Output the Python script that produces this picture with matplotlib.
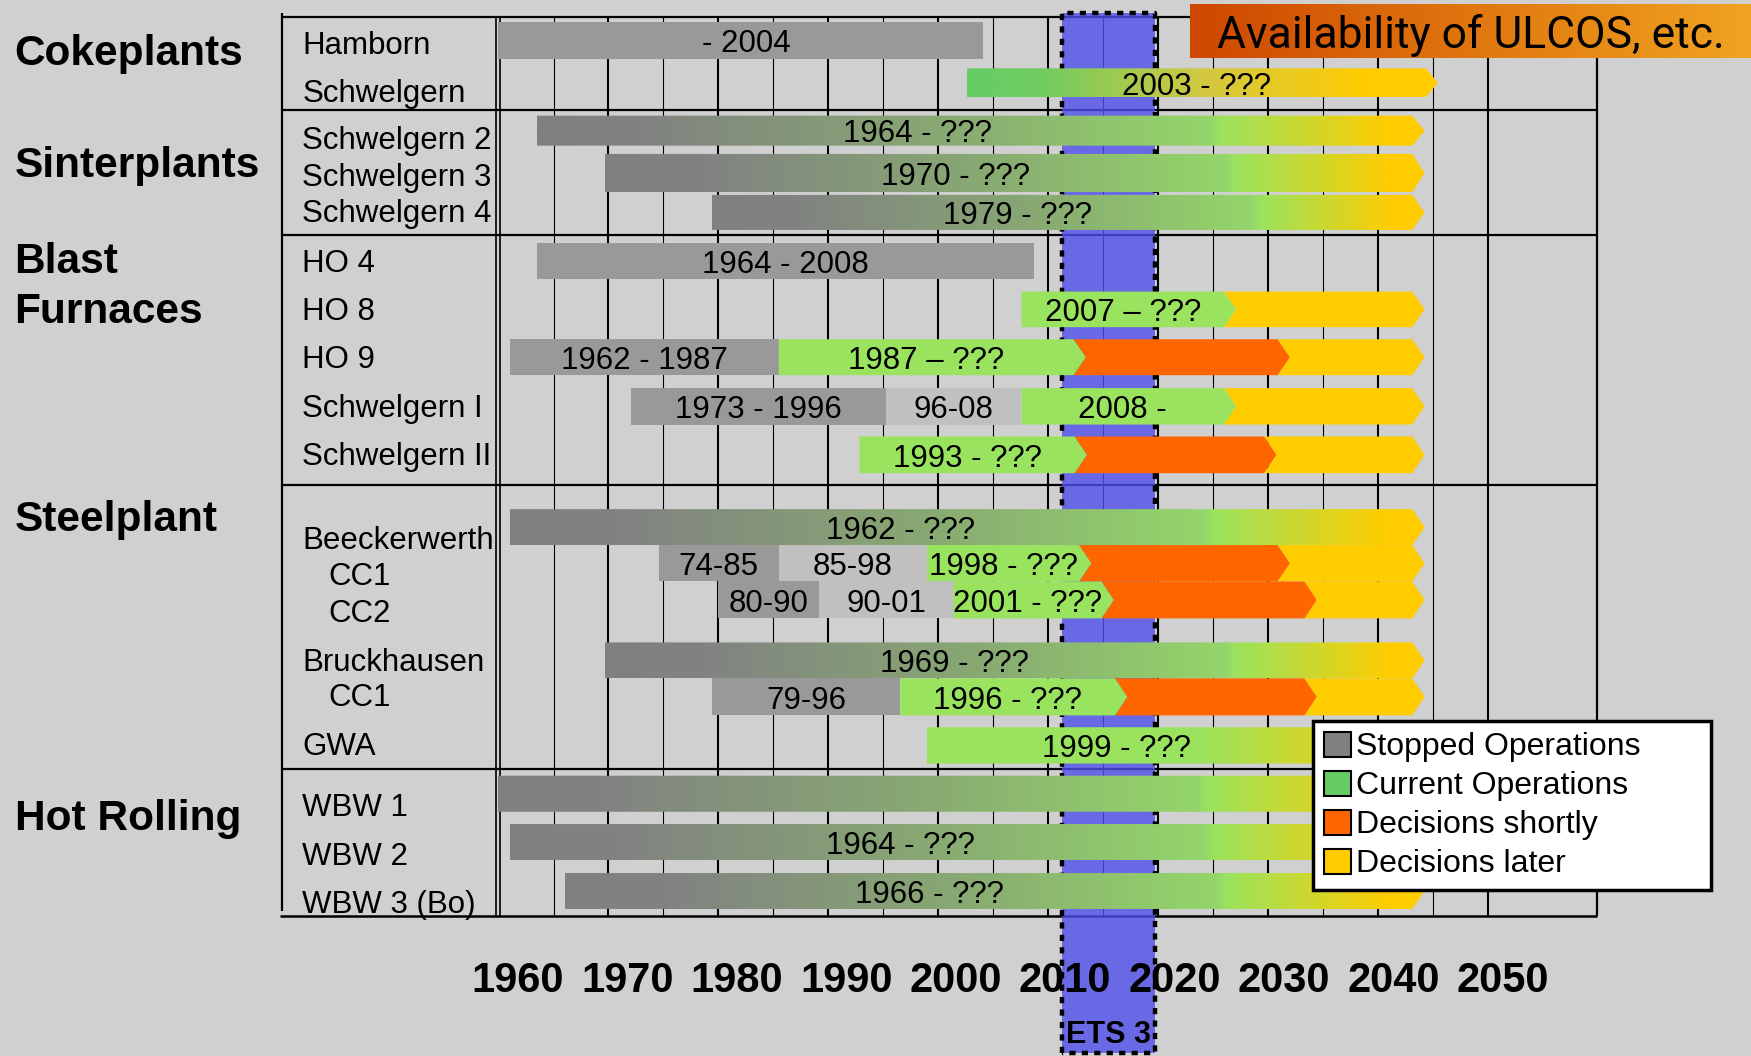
import numpy as np
import matplotlib
matplotlib.use('Agg')
import matplotlib.pyplot as plt
from matplotlib.patches import Polygon, Rectangle, Patch
from matplotlib.colors import LinearSegmentedColormap

plt.rcParams['font.family'] = ['Liberation Sans', 'DejaVu Sans']

# ---- data -----------------------------------------------------------------
group_labels = ['Cokeplants', 'Sinterplants', 'Blast', 'Furnaces', 'Steelplant', 'Hot Rolling']

row_labels = ['Hamborn', 'Schwelgern', 'Schwelgern 2', 'Schwelgern 3', 'Schwelgern 4',
              'HO 4', 'HO 8', 'HO 9', 'Schwelgern I', 'Schwelgern II',
              'Beeckerwerth', 'CC1', 'CC2', 'Bruckhausen', 'CC1', 'GWA',
              'WBW 1', 'WBW 2', 'WBW 3 (Bo)']

# segment boundaries (years) for every row
seg_edges = [
    [1960, 2003.9],
    [2002.5, 2043.4],
    [1964.1, 2042.2],
    [1970.2, 2042.2],
    [1979.75, 2042.2],
    [1964.1, 2008.5],
    [2007.35, 2025.4, 2042.2],
    [1961.7, 1985.7, 2012.0, 2030.2, 2042.2],
    [1972.5, 1995.3, 2007.35, 2025.4, 2042.2],
    [1992.9, 2012.1, 2029.0, 2042.2],
    [1961.7, 2042.2],
    [1975.0, 1985.7, 1998.95, 2012.5, 2030.2, 2042.2],
    [1980.3, 1989.3, 2001.3, 2014.5, 2032.6, 2042.2],
    [1970.2, 2042.2],
    [1979.75, 1996.55, 2015.7, 2032.6, 2042.2],
    [1998.9, 2042.2],
    [1960, 2042.2],
    [1961.7, 2042.2],
    [1966.6, 2042.2],
]
seg_kinds = [
    ['stopped'],
    ['coke'],
    ['aging'], ['aging'], ['aging'],
    ['stopped'],
    ['current', 'later'],
    ['stopped', 'current', 'shortly', 'later'],
    ['stopped', 'former', 'current', 'later'],
    ['current', 'shortly', 'later'],
    ['aging'],
    ['stopped', 'former', 'current', 'shortly', 'later'],
    ['stopped', 'former', 'current', 'shortly', 'later'],
    ['aging'],
    ['stopped', 'current', 'shortly', 'later'],
    ['new'],
    ['aging'], ['aging'], ['aging'],
]
seg_texts = [
    ['- 2004'],
    ['2003 - ???'],
    ['1964 - ???'], ['1970 - ???'], ['1979 - ???'],
    ['1964 - 2008'],
    ['2007 \u2013 ???', ''],
    ['1962 - 1987', '1987 \u2013 ???', '', ''],
    ['1973 - 1996', '96-08', '2008 -', ''],
    ['1993 - ???', '', ''],
    ['1962 - ???'],
    ['74-85', '85-98', '1998 - ???', '', ''],
    ['80-90', '90-01', '2001 - ???', '', ''],
    ['1969 - ???'],
    ['79-96', '1996 - ???', '', ''],
    ['1999 - ???'],
    [''], ['1964 - ???'], ['1966 - ???'],
]
# label position for the long gradient bars (None = centre of segment)
text_at = [1982.8, 2023.0, 1998.1, 2001.5, 2007.0, None, None, None, None, None,
           1996.6, None, None, 2001.4, None, 2015.8, None, 1996.6, 1999.1]
open_end = [False, True, True, True, True, False] + [True] * 13

ets_years = (2011.0, 2019.3)
tick_years = [1960, 1970, 1980, 1990, 2000, 2010, 2020, 2030, 2040, 2050]

legend_labels = ['Stopped Operations', 'Current Operations', 'Decisions shortly', 'Decisions later']
legend_colors = ['#808080', '#66CC66', '#FF6600', '#FFCC00']

# ---- layout (reference pixel units) ---------------------------------------
W, H = 1568.0, 946.0
BG = '#D0D0D0'
group_base = [58.2, 158.2, 244.8, 289.5, 476.1, 743.3]
row_base = [48.4, 91.0, 133.4, 166.3, 199.1, 243.3, 286.6, 329.9, 373.7, 417.0,
            491.6, 524.5, 557.3, 601.5, 632.8, 676.1, 731.3, 774.6, 817.9]
indented = {11, 12, 14}
bar_top = [20.0, 61.2, 103.6, 137.9, 174.6, 217.9, 261.2, 303.9, 347.7, 391.0,
           456.1, 488.3, 520.9, 575.5, 607.7, 651.5, 694.9, 738.2, 782.1]
bar_bot = [52.8, 87.2, 130.5, 172.2, 206.0, 250.1, 293.1, 336.1, 380.3, 423.9,
           488.3, 520.9, 554.0, 607.7, 640.9, 684.0, 727.2, 770.4, 814.3]
section_y = [98.5, 210.4, 434.3, 689.2]
TIP = 1.1  # arrow tip depth in years

solid = {'stopped': '#999999', 'former': '#C0C0C0', 'current': '#9AE35E',
         'shortly': '#FF6600', 'later': '#FFCC00'}
gradients = {
    'aging': [(0.0, '#808080'), (0.12, '#818381'), (0.45, '#88A873'),
              (0.76, '#94D66A'), (0.77, '#9AE35E'), (0.96, '#FFCC00'), (1.0, '#FFCC00')],
    'coke': [(0.0, '#66CC66'), (0.15, '#70CC60'), (0.5, '#D2C842'),
             (0.85, '#FFCC00'), (1.0, '#FFCC00')],
    'new': [(0.0, '#9AE35E'), (0.55, '#9AE35E'), (0.95, '#FFCC00'), (1.0, '#FFCC00')],
}

fig = plt.figure(figsize=(17.51, 10.56), dpi=100, facecolor=BG)

page = fig.add_axes([0, 0, 1, 1])
page.set_xlim(0, W)
page.set_ylim(H, 0)
page.axis('off')

# table frame
lk = dict(color='black', solid_capstyle='butt')
page.plot([252.6, 1066], [15, 15], lw=1.6, **lk)
page.plot([252.6, 252.6], [12, 816.4], lw=1.6, **lk)
page.plot([444.5, 444.5], [15, 820.9], lw=1.2, **lk)
page.plot([448, 448], [15, 820.9], lw=1.2, **lk)
for y in section_y:
    page.plot([252.6, 1430.3], [y, y], lw=1.6, **lk)
page.plot([250.4, 1430.3], [820.9, 820.9], lw=1.8, **lk)
page.plot([1430.3, 1430.3], [15, 820.9], lw=1.6, **lk)

for lab, yb in zip(group_labels, group_base):
    page.text(13, yb, lab, fontsize=30.5, fontweight='bold', va='baseline', ha='left')
for i, lab in enumerate(row_labels):
    page.text(294 if i in indented else 270.7, row_base[i], lab, fontsize=22.5,
              va='baseline', ha='left')

# chart area
x_left, x_right = 1960.70, 2058.70
ax = fig.add_axes([446.3 / W, 1 - 820.9 / H, (1430.3 - 446.3) / W, (820.9 - 15) / H])
ax.set_facecolor('none')
for s in ax.spines.values():
    s.set_visible(False)
ax.set_yticks([])
ax.set_xticks([])

grid_x = 1965.62 + 4.9 * np.arange(18)
for k, gx in enumerate(grid_x):
    ax.axvline(gx, color='black', lw=1.5 if k % 2 else 0.8, zorder=1)

# ETS 3 band
ax.add_patch(Rectangle((ets_years[0], 11.3), ets_years[1] - ets_years[0], 943 - 11.3,
                       facecolor='#5050EC', alpha=0.8, edgecolor='none',
                       zorder=2, clip_on=False))
ax.plot([ets_years[0], ets_years[0], ets_years[1], ets_years[1], ets_years[0]],
        [943, 11.3, 11.3, 943, 943], color='black', lw=3.2, ls=(0, (1.4, 1.4)),
        zorder=2.5, clip_on=False)
ax.text(sum(ets_years) / 2, 934, 'ETS 3', fontsize=22, fontweight='bold',
        ha='center', va='baseline', zorder=6, clip_on=False)


def seg_points(x0, x1, yt, yb, notch, tip):
    ym = (yt + yb) / 2
    pts = [(x0, yt), (x1, yt)]
    if tip:
        pts.append((x1 + TIP, ym))
    pts += [(x1, yb), (x0, yb)]
    if notch:
        pts.append((x0 + TIP, ym))
    return pts


for i in range(len(row_labels)):
    edges, kinds, texts = seg_edges[i], seg_kinds[i], seg_texts[i]
    yt, yb = bar_top[i], bar_bot[i]
    n = len(kinds)
    for j in range(n):
        x0, x1 = edges[j], edges[j + 1]
        notch = j > 0 and kinds[j - 1] in ('current', 'shortly')
        last = j == n - 1
        tip = open_end[i] if last else kinds[j] in ('current', 'shortly')
        pts = seg_points(x0, x1, yt, yb, notch, tip)
        if kinds[j] in gradients:
            poly = Polygon(pts, closed=True, facecolor='none', edgecolor='none')
            ax.add_patch(poly)
            cmap = LinearSegmentedColormap.from_list(kinds[j], gradients[kinds[j]])
            img = cmap(np.linspace(0, 1, 400))[None, :, :]
            right = x1 + TIP if tip else x1
            im = ax.imshow(img, extent=(x0, right, yb, yt), aspect='auto',
                           interpolation='bilinear', zorder=3)
            im.set_clip_path(poly)
        else:
            ax.add_patch(Polygon(pts, closed=True, facecolor=solid[kinds[j]],
                                 edgecolor='none', zorder=3))
        if texts[j]:
            tx = text_at[i] if (text_at[i] is not None and n == 1) else (x0 + x1) / 2
            ax.text(tx, (yt + yb) / 2 + 10.5, texts[j], fontsize=22.5,
                    ha='center', va='baseline', zorder=4)

ax.set_xlim(x_left, x_right)
ax.set_ylim(820.9, 15)

# year labels (their spacing differs slightly from the bars in the original)
t0, ts = 1962.43, 0.9764
sec = ax.secondary_xaxis('bottom', functions=(lambda v: 1960 + (v - t0) / ts,
                                              lambda v: t0 + (v - 1960) * ts))
sec.set_xticks(tick_years)
sec.set_xticklabels([str(t) for t in tick_years], fontsize=30, fontweight='bold')
sec.tick_params(length=0, pad=32)
sec.spines['bottom'].set_visible(False)
sec.set_zorder(6)

handles = [Patch(facecolor=c, edgecolor='black', linewidth=1.5) for c in legend_colors]
leg = ax.legend(handles, legend_labels, loc='upper left', mode='expand',
                bbox_to_anchor=(1176 / W, 1 - 646 / H, (1532 - 1176) / W, 0),
                bbox_transform=fig.transFigure, borderaxespad=0, fontsize=23,
                handlelength=0.84, handleheight=0.84, handletextpad=0.17,
                labelspacing=0.26, borderpad=0.33, fancybox=False,
                framealpha=1, facecolor='white', edgecolor='black')
leg.get_frame().set_linewidth(2.5)
leg.set_zorder(7)

# header box
hdr = fig.add_axes([1066 / W, 1 - 51.6 / H, (W - 1066) / W, (51.6 - 3.9) / H])
hcmap = LinearSegmentedColormap.from_list('hdr', ['#CE4700', '#E0760F', '#F0A321'])
hdr.imshow(hcmap(np.linspace(0, 1, 300))[None, :, :], extent=(0, 1, 0, 1),
           aspect='auto', interpolation='bilinear')
hdr.set_xlim(0, 1)
hdr.set_ylim(0, 1)
hdr.axis('off')
hdr.text(1090, 43.3, 'Availability of ULCOS, etc.', transform=page.transData,
         fontsize=32, family=['Roboto', 'DejaVu Sans'], ha='left', va='baseline',
         clip_on=False)

fig.savefig('out.png', dpi=100, facecolor=BG)
